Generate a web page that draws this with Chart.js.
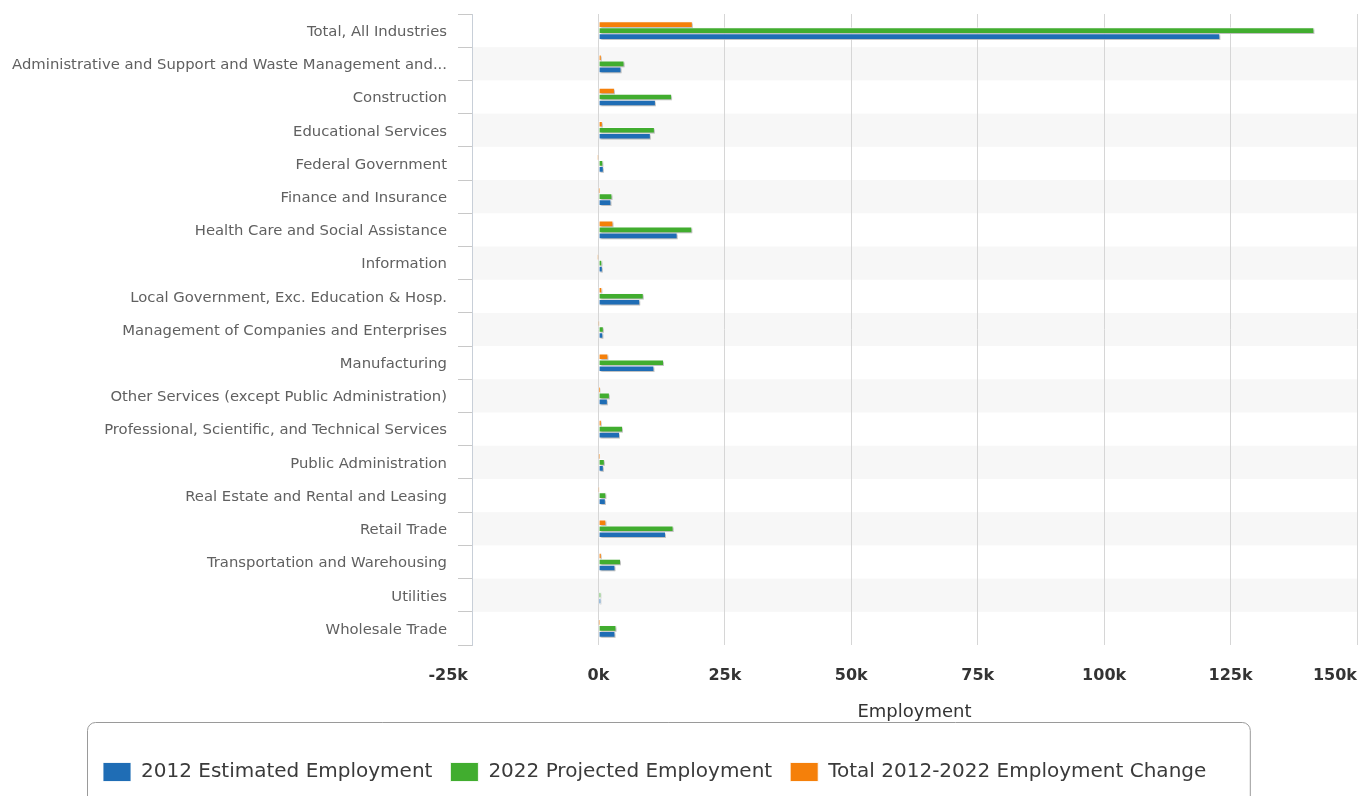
<!DOCTYPE html>
<html>
<head>
<meta charset="utf-8">
<title>Employment by Industry, 2012–2022</title>
<script src="https://cdn.jsdelivr.net/npm/chart.js@4.4.1/dist/chart.umd.min.js"></script>
<style>
  html, body { margin: 0; padding: 0; background: #ffffff; }
  #wrap { width: 1362px; height: 796px; position: relative; }
</style>
</head>
<body>
<div id="wrap"><canvas id="chart"></canvas></div>
<script>
// Industries, in display order (top to bottom)
const industries = [
  'Total, All Industries',
  'Administrative and Support and Waste Management and...',
  'Construction',
  'Educational Services',
  'Federal Government',
  'Finance and Insurance',
  'Health Care and Social Assistance',
  'Information',
  'Local Government, Exc. Education & Hosp.',
  'Management of Companies and Enterprises',
  'Manufacturing',
  'Other Services (except Public Administration)',
  'Professional, Scientific, and Technical Services',
  'Public Administration',
  'Real Estate and Rental and Leasing',
  'Retail Trade',
  'Transportation and Warehousing',
  'Utilities',
  'Wholesale Trade'
];

// Employment counts per industry
const employment2012 = [122900, 4500, 11300, 10300, 1000, 2500, 15600, 800, 8200, 900, 11000, 1800, 4200, 1000, 1400, 13300, 3300, 500, 3300];
const employment2022 = [141500, 5100, 14500, 11100, 900, 2700, 18500, 700, 8900, 1000, 12900, 2200, 4800, 1200, 1500, 14800, 4400, 500, 3500];
const employmentChange = [18600, 600, 3200, 800, -100, 200, 2900, -100, 700, 100, 1900, 400, 600, 200, 100, 1500, 600, 0, 200];

// Value axis ticks
const axisMin = -25000;
const axisMax = 150000;
const axisStep = 25000;

const seriesNames = ['2012 Estimated Employment', '2022 Projected Employment', 'Total 2012-2022 Employment Change'];
const seriesColors = ['#1f6db5', '#41ad2f', '#f5800a'];

const FONT = '"DejaVu Sans", Verdana, sans-serif';
const LEGEND_LEFT = 85;

// Alternating light bands behind every other category row
const rowBands = {
  id: 'rowBands',
  beforeDraw(chart) {
    const { ctx, chartArea, scales } = chart;
    const y = scales.y;
    const n = y.ticks.length;
    ctx.save();
    ctx.fillStyle = '#f7f7f7';
    for (let i = 1; i < n; i += 2) {
      const top = (y.getPixelForValue(i - 1) + y.getPixelForValue(i)) / 2;
      const bottom = (y.getPixelForValue(i) + y.getPixelForValue(i + 1)) / 2;
      ctx.fillRect(chartArea.left, top, chartArea.right - chartArea.left, bottom - top);
    }
    ctx.restore();
  }
};

// Soft drop shadow under the bars
const barShadow = {
  id: 'barShadow',
  beforeDatasetsDraw(chart) {
    const ctx = chart.ctx;
    ctx.save();
    ctx.shadowColor = 'rgba(0,0,0,0.28)';
    ctx.shadowOffsetX = 1.5;
    ctx.shadowOffsetY = 1.5;
    ctx.shadowBlur = 2;
  },
  afterDatasetsDraw(chart) {
    chart.ctx.restore();
  }
};

// Legend row starts from a fixed left edge
const legendPlacement = {
  id: 'legendPlacement',
  afterLayout(chart) {
    if (chart.legend) chart.legend.left = LEGEND_LEFT;
  }
};

// Rounded frame around the legend row
const legendFrame = {
  id: 'legendFrame',
  afterDraw(chart) {
    const boxes = chart.legend && chart.legend.legendHitBoxes;
    if (!boxes || !boxes.length) return;
    const ctx = chart.ctx;
    let left = Infinity, right = -Infinity, top = Infinity, bottom = -Infinity;
    boxes.forEach(b => {
      left = Math.min(left, b.left);
      right = Math.max(right, b.left + b.width);
      top = Math.min(top, b.top);
      bottom = Math.max(bottom, b.top + b.height);
    });
    const x = left - 15.5, w = (right + 44) - (left - 15.5);
    const y = top - 39.5, h = (bottom + 40) - (top - 39.5);
    ctx.save();
    ctx.strokeStyle = '#9a9a9a';
    ctx.lineWidth = 1;
    ctx.beginPath();
    ctx.roundRect(x, y, w, h, 8);
    ctx.stroke();
    ctx.restore();
  }
};

// Value-axis tick labels: the outermost labels are pulled inside their ticks
const valueLabels = {
  id: 'valueLabels',
  afterDraw(chart) {
    const { ctx } = chart;
    const x = chart.scales.x;
    ctx.save();
    ctx.font = 'bold 16px ' + FONT;
    ctx.fillStyle = '#333333';
    ctx.textBaseline = 'middle';
    const yPos = chart.chartArea.bottom + 31;
    const last = x.ticks.length - 1;
    x.ticks.forEach((t, i) => {
      const px = x.getPixelForTick(i);
      const label = (t.value / 1000) + 'k';
      if (i === 0) { ctx.textAlign = 'right'; ctx.fillText(label, px - 4, yPos); }
      else if (i === last) { ctx.textAlign = 'right'; ctx.fillText(label, px, yPos); }
      else { ctx.textAlign = 'center'; ctx.fillText(label, px, yPos); }
    });
    ctx.restore();
  }
};

const datasets = [
  { label: seriesNames[2], data: employmentChange, backgroundColor: seriesColors[2] },
  { label: seriesNames[1], data: employment2022, backgroundColor: seriesColors[1] },
  { label: seriesNames[0], data: employment2012, backgroundColor: seriesColors[0] }
].map(d => Object.assign(d, {
  borderColor: 'rgba(255,255,255,0.85)',
  borderWidth: 1,
  borderSkipped: false,
  barThickness: 6
}));

new Chart(document.getElementById('chart'), {
  type: 'bar',
  data: { labels: industries, datasets },
  plugins: [rowBands, barShadow, legendPlacement, legendFrame, valueLabels],
  options: {
    indexAxis: 'y',
    responsive: true,
    maintainAspectRatio: false,
    animation: false,
    layout: { padding: { top: 14, right: 5, bottom: 4, left: 2 } },
    scales: {
      y: {
        type: 'category',
        offset: true,
        afterFit(scale) {
          scale.width = 470;
          scale.paddingTop = 0;
          scale.paddingBottom = 0;
        },
        grid: {
          offset: true,
          drawOnChartArea: false,
          drawTicks: true,
          tickLength: 14,
          color: '#c8c8c8'
        },
        border: { display: true, color: '#c8cfd8' },
        ticks: {
          padding: 11,
          labelOffset: 1.5,
          color: '#606060',
          font: { family: FONT, size: 14.8 },
          autoSkip: false
        }
      },
      x: {
        type: 'linear',
        min: axisMin,
        max: axisMax,
        afterFit(scale) {
          scale.height = 99;
          scale.paddingLeft = 0;
          scale.paddingRight = 0;
        },
        grid: { color: '#d6d6d6', drawTicks: false },
        border: { display: false },
        ticks: {
          stepSize: axisStep,
          padding: 19,
          align: 'inner',
          color: 'rgba(0,0,0,0)',
          font: { family: FONT, size: 16, weight: 'bold' },
          callback: v => (v / 1000) + 'k'
        },
        title: {
          display: true,
          text: 'Employment',
          color: '#333333',
          font: { family: FONT, size: 18 },
          padding: { top: 0, bottom: 21 }
        }
      }
    },
    plugins: {
      legend: {
        position: 'bottom',
        align: 'start',
        reverse: true,
        labels: {
          boxWidth: 28,
          boxHeight: 19,
          padding: 18,
          color: '#3a3a3a',
          font: { family: FONT, size: 20 }
        }
      },
      tooltip: { enabled: false }
    }
  }
});
</script>
</body>
</html>
